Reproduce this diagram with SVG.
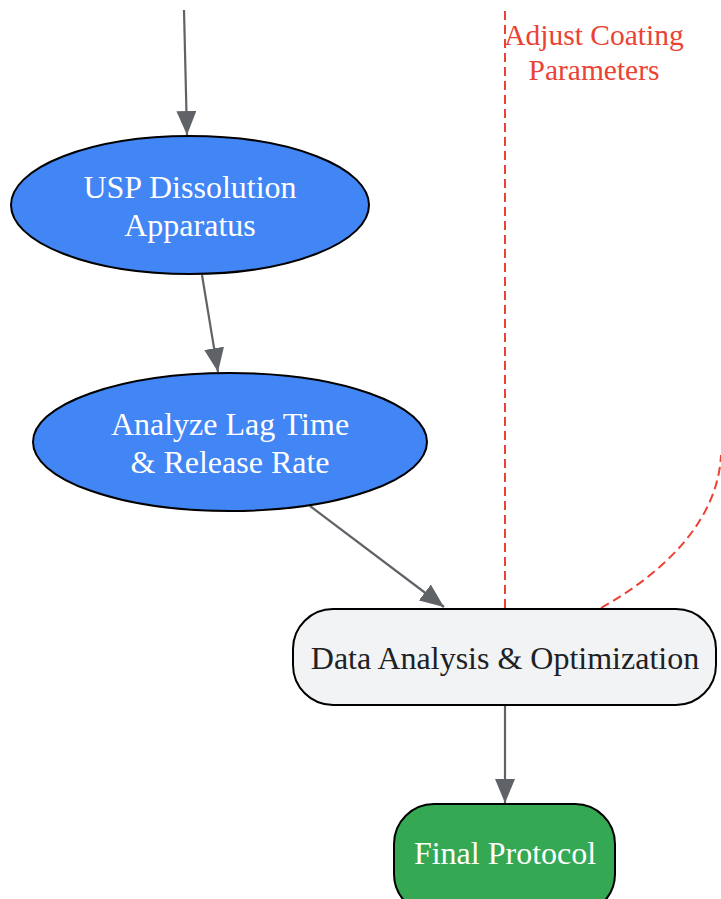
<svg xmlns="http://www.w3.org/2000/svg" width="721" height="899" viewBox="0 0 721 899">
<style>
.edge{stroke:#5f6368;stroke-width:2.2;fill:none}
.fb{stroke:#ea4335;stroke-width:2;fill:none;stroke-dasharray:9,5}
.node{stroke:#000;stroke-width:2}
.t{font-family:"Liberation Serif","Times New Roman",serif;font-size:32px;text-anchor:middle}
.lbl{font-family:"Liberation Serif","Times New Roman",serif;font-size:29.5px;text-anchor:middle;fill:#ea4335}
</style>
<defs>
<marker id="ah" viewBox="0 0 24 20" refX="24" refY="10" markerWidth="24" markerHeight="20" markerUnits="userSpaceOnUse" orient="auto">
<path d="M0,0 L24,10 L0,20 Z" fill="#5f6368"/>
</marker>
</defs>
<rect width="721" height="899" fill="#fff"/>
<g id="edges">
<path class="edge" d="M184,10 L187,135" marker-end="url(#ah)"/>
<path class="edge" d="M202,275 L218,372" marker-end="url(#ah)"/>
<path class="edge" d="M310,506 L444,607" marker-end="url(#ah)"/>
<path class="edge" d="M505,706 L505,803" marker-end="url(#ah)"/>
<path class="fb" d="M505,608 L505,10"/>
<path class="fb" d="M601,608 C665,572 718,520 721,455"/>
<text class="lbl" x="594" y="45">Adjust Coating</text>
<text class="lbl" x="594" y="80">Parameters</text>
</g>
<g id="usp">
<ellipse class="node" cx="190" cy="205" rx="179" ry="69" fill="#4285f4"/>
<text class="t" x="190" y="198" fill="#fff">USP Dissolution</text>
<text class="t" x="190" y="236" fill="#fff">Apparatus</text>
</g>
<g id="analyze">
<ellipse class="node" cx="230" cy="442" rx="197" ry="69" fill="#4285f4"/>
<text class="t" x="230" y="435" fill="#fff">Analyze Lag Time</text>
<text class="t" x="230" y="473" fill="#fff">&amp; Release Rate</text>
</g>
<g id="data">
<rect class="node" x="293" y="609" width="423" height="96" rx="40" fill="#f1f3f4"/>
<text class="t" x="505" y="669" fill="#202124">Data Analysis &amp; Optimization</text>
</g>
<g id="final">
<rect class="node" x="394" y="804" width="221" height="110" rx="40" fill="#34a853"/>
<text class="t" x="505" y="864" fill="#fff">Final Protocol</text>
</g>
</svg>
